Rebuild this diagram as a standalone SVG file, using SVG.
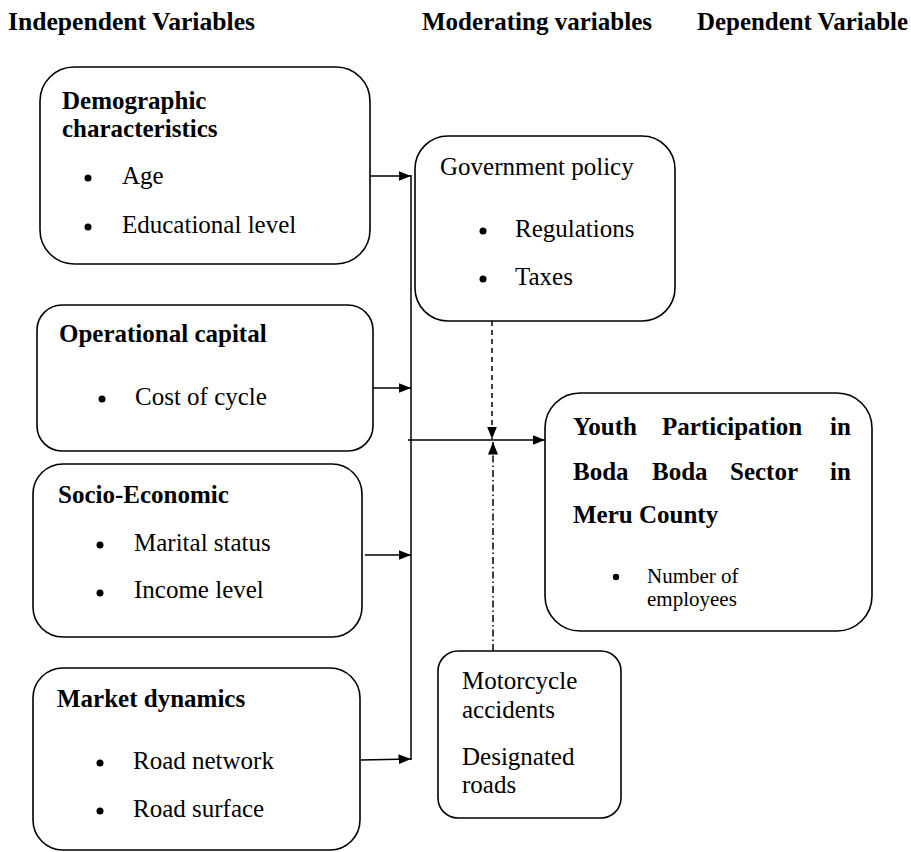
<svg xmlns="http://www.w3.org/2000/svg" width="911" height="852" viewBox="0 0 911 852">
<style>
text{font-family:"Liberation Serif","Times New Roman",serif;font-size:25px;fill:#000}
.b{font-weight:bold}
.sm{font-size:21px}
.box{fill:#fff;stroke:#000;stroke-width:1.6}
.ln{stroke:#000;stroke-width:1.5;fill:none}
.dot{fill:#000}
</style>
<defs>
<marker id="ah" markerUnits="userSpaceOnUse" markerWidth="14" markerHeight="12" refX="12.5" refY="5" orient="auto">
<path d="M0,0 L12.5,5 L0,10 z" fill="#000"/>
</marker>
</defs>
<g id="headers">
<text class="b" x="8" y="30" textLength="247" lengthAdjust="spacingAndGlyphs">Independent Variables</text>
<text class="b" x="422" y="30" textLength="230" lengthAdjust="spacingAndGlyphs">Moderating variables</text>
<text class="b" x="697" y="30" textLength="211" lengthAdjust="spacingAndGlyphs">Dependent Variable</text>
</g>
<g id="connectors">
<line class="ln" x1="411" y1="175" x2="411" y2="760"/>
<line class="ln" x1="370" y1="176" x2="411" y2="176" marker-end="url(#ah)"/>
<line class="ln" x1="373" y1="388" x2="411" y2="388" marker-end="url(#ah)"/>
<line class="ln" x1="365" y1="555" x2="411" y2="555" marker-end="url(#ah)"/>
<line class="ln" x1="361" y1="760" x2="411" y2="759" marker-end="url(#ah)"/>
<line class="ln" x1="408" y1="440" x2="545" y2="440" marker-end="url(#ah)"/>
<line class="ln" x1="492" y1="321" x2="492" y2="439" stroke-dasharray="5 4" marker-end="url(#ah)"/>
<line class="ln" x1="493" y1="651" x2="493" y2="442" stroke-dasharray="7 3 1.5 3" marker-end="url(#ah)"/>
</g>
<g id="demographic">
<rect class="box" x="40" y="67" width="330" height="197" rx="34"/>
<text class="b" x="62" y="109">Demographic</text>
<text class="b" x="62" y="137">characteristics</text>
<circle class="dot" cx="88" cy="178" r="3.5"/>
<text x="122" y="184">Age</text>
<circle class="dot" cx="88" cy="227" r="3.5"/>
<text x="122" y="233">Educational level</text>
</g>
<g id="operational">
<rect class="box" x="37" y="305" width="336" height="146" rx="25"/>
<text class="b" x="59" y="342">Operational capital</text>
<circle class="dot" cx="102" cy="399" r="3.5"/>
<text x="135" y="405">Cost of cycle</text>
</g>
<g id="socio">
<rect class="box" x="33" y="464" width="329" height="173" rx="30"/>
<text class="b" x="58" y="503">Socio-Economic</text>
<circle class="dot" cx="100" cy="545" r="3.5"/>
<text x="134" y="551">Marital status</text>
<circle class="dot" cx="100" cy="593" r="3.5"/>
<text x="134" y="598">Income level</text>
</g>
<g id="market">
<rect class="box" x="33" y="668" width="327" height="182" rx="30"/>
<text class="b" x="57" y="707">Market dynamics</text>
<circle class="dot" cx="100" cy="763" r="3.5"/>
<text x="133" y="769">Road network</text>
<circle class="dot" cx="100" cy="811" r="3.5"/>
<text x="133" y="817">Road surface</text>
</g>
<g id="government">
<rect class="box" x="415" y="136" width="260" height="185" rx="33"/>
<text x="440" y="175">Government policy</text>
<circle class="dot" cx="483" cy="231" r="3.5"/>
<text x="515" y="237">Regulations</text>
<circle class="dot" cx="483" cy="279" r="3.5"/>
<text x="515" y="285">Taxes</text>
</g>
<g id="youth">
<rect class="box" x="545" y="393" width="327" height="238" rx="35"/>
<text class="b" y="435"><tspan x="573">Youth</tspan><tspan x="662">Participation</tspan><tspan x="830">in</tspan></text>
<text class="b" y="480"><tspan x="573">Boda</tspan><tspan x="652">Boda</tspan><tspan x="730">Sector</tspan><tspan x="830">in</tspan></text>
<text class="b" x="573" y="523">Meru County</text>
<circle class="dot" cx="616" cy="577" r="3.2"/>
<text class="sm" x="647" y="583">Number of</text>
<text class="sm" x="647" y="606">employees</text>
</g>
<g id="motorcycle">
<rect class="box" x="438" y="651" width="183" height="167" rx="20"/>
<text x="462" y="689">Motorcycle</text>
<text x="462" y="718">accidents</text>
<text x="462" y="765">Designated</text>
<text x="462" y="793">roads</text>
</g>
</svg>
